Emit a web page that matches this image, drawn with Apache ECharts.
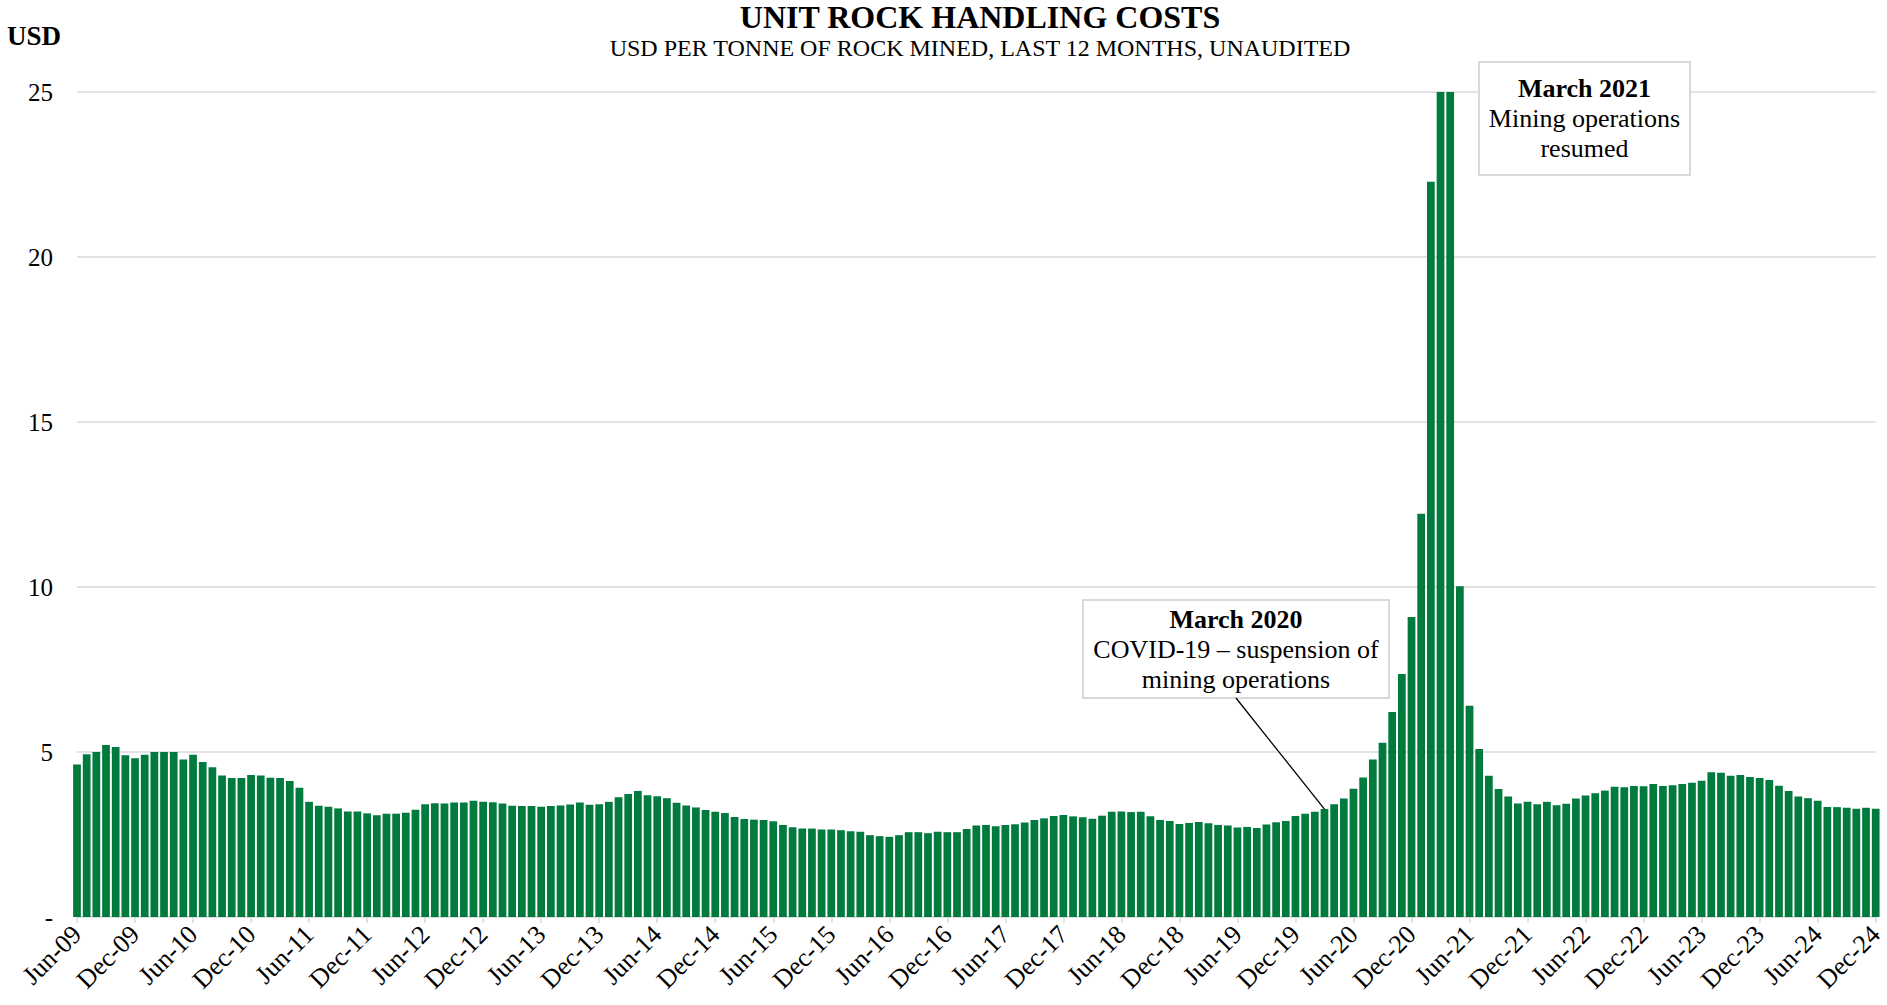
<!DOCTYPE html>
<html>
<head>
<meta charset="utf-8">
<script src="https://cdn.jsdelivr.net/npm/echarts@6/dist/echarts.min.js"></script>
<style>
html,body{margin:0;padding:0;background:#ffffff;}
#chart{width:1887px;height:1005px;}
</style>
</head>
<body>
<div id="chart"></div>
<script>
// ---------- DATA ----------
const categories = [
  'Jun-09','Jul-09','Aug-09','Sep-09','Oct-09','Nov-09','Dec-09',
  'Jan-10','Feb-10','Mar-10','Apr-10','May-10','Jun-10','Jul-10','Aug-10','Sep-10','Oct-10','Nov-10','Dec-10',
  'Jan-11','Feb-11','Mar-11','Apr-11','May-11','Jun-11','Jul-11','Aug-11','Sep-11','Oct-11','Nov-11','Dec-11',
  'Jan-12','Feb-12','Mar-12','Apr-12','May-12','Jun-12','Jul-12','Aug-12','Sep-12','Oct-12','Nov-12','Dec-12',
  'Jan-13','Feb-13','Mar-13','Apr-13','May-13','Jun-13','Jul-13','Aug-13','Sep-13','Oct-13','Nov-13','Dec-13',
  'Jan-14','Feb-14','Mar-14','Apr-14','May-14','Jun-14','Jul-14','Aug-14','Sep-14','Oct-14','Nov-14','Dec-14',
  'Jan-15','Feb-15','Mar-15','Apr-15','May-15','Jun-15','Jul-15','Aug-15','Sep-15','Oct-15','Nov-15','Dec-15',
  'Jan-16','Feb-16','Mar-16','Apr-16','May-16','Jun-16','Jul-16','Aug-16','Sep-16','Oct-16','Nov-16','Dec-16',
  'Jan-17','Feb-17','Mar-17','Apr-17','May-17','Jun-17','Jul-17','Aug-17','Sep-17','Oct-17','Nov-17','Dec-17',
  'Jan-18','Feb-18','Mar-18','Apr-18','May-18','Jun-18','Jul-18','Aug-18','Sep-18','Oct-18','Nov-18','Dec-18',
  'Jan-19','Feb-19','Mar-19','Apr-19','May-19','Jun-19','Jul-19','Aug-19','Sep-19','Oct-19','Nov-19','Dec-19',
  'Jan-20','Feb-20','Mar-20','Apr-20','May-20','Jun-20','Jul-20','Aug-20','Sep-20','Oct-20','Nov-20','Dec-20',
  'Jan-21','Feb-21','Mar-21','Apr-21','May-21','Jun-21','Jul-21','Aug-21','Sep-21','Oct-21','Nov-21','Dec-21',
  'Jan-22','Feb-22','Mar-22','Apr-22','May-22','Jun-22','Jul-22','Aug-22','Sep-22','Oct-22','Nov-22','Dec-22',
  'Jan-23','Feb-23','Mar-23','Apr-23','May-23','Jun-23','Jul-23','Aug-23','Sep-23','Oct-23','Nov-23','Dec-23',
  'Jan-24','Feb-24','Mar-24','Apr-24','May-24','Jun-24','Jul-24','Aug-24','Sep-24','Oct-24','Nov-24','Dec-24'
];

// USD per tonne of rock mined (last 12 months), one value per month
const costs = [
  4.62, 4.93, 5.00, 5.21, 5.15, 4.90, 4.81,
  4.92, 5.00, 5.00, 5.00, 4.77, 4.92, 4.70, 4.54, 4.29, 4.21, 4.21, 4.30,
  4.29, 4.22, 4.21, 4.12, 3.92, 3.49, 3.37, 3.34, 3.29, 3.20, 3.20, 3.14,
  3.08, 3.13, 3.13, 3.16, 3.25, 3.42, 3.45, 3.44, 3.47, 3.47, 3.52, 3.49,
  3.48, 3.44, 3.37, 3.36, 3.36, 3.34, 3.36, 3.38, 3.41, 3.47, 3.40, 3.42,
  3.49, 3.63, 3.73, 3.82, 3.69, 3.66, 3.60, 3.46, 3.38, 3.32, 3.24, 3.19,
  3.15, 3.03, 2.97, 2.95, 2.94, 2.90, 2.79, 2.72, 2.68, 2.68, 2.65, 2.65,
  2.63, 2.60, 2.58, 2.48, 2.45, 2.43, 2.48, 2.57, 2.57, 2.54, 2.58, 2.57,
  2.57, 2.67, 2.77, 2.79, 2.75, 2.79, 2.81, 2.86, 2.94, 2.99, 3.06, 3.09,
  3.05, 3.02, 2.98, 3.07, 3.19, 3.20, 3.18, 3.19, 3.05, 2.94, 2.91, 2.82,
  2.85, 2.88, 2.84, 2.79, 2.77, 2.71, 2.73, 2.70, 2.80, 2.87, 2.91, 3.06,
  3.13, 3.19, 3.27, 3.42, 3.59, 3.89, 4.23, 4.77, 5.28, 6.21, 7.36, 9.09,
  12.22, 22.28, 25.00, 25.00, 10.02, 6.40, 5.09, 4.28, 3.88, 3.65, 3.44, 3.49,
  3.42, 3.49, 3.39, 3.43, 3.59, 3.68, 3.75, 3.83, 3.95, 3.93, 3.97, 3.96,
  4.03, 3.97, 3.99, 4.03, 4.07, 4.13, 4.39, 4.37, 4.28, 4.30, 4.24, 4.21,
  4.15, 3.98, 3.82, 3.65, 3.60, 3.52, 3.33, 3.33, 3.31, 3.28, 3.31, 3.28
];

const yTicks = [0, 5, 10, 15, 20, 25];

const titleText = 'UNIT ROCK HANDLING COSTS';
const subtitleText = 'USD PER TONNE OF ROCK MINED, LAST 12 MONTHS, UNAUDITED';
const unitText = 'USD';

const covidNote = { month: 'Mar-20', head: 'March 2020', lines: ['COVID-19 \u2013 suspension of', 'mining operations'] };
const resumeNote = { month: 'Mar-21', head: 'March 2021', lines: ['Mining operations', 'resumed'] };

// ---------- CHART ----------
const FONT = '"Liberation Serif", "Times New Roman", serif';
const GREEN = '#007a3d';
const GRID_GRAY = '#d9d9d9';

const chart = echarts.init(document.getElementById('chart'), null, { renderer: 'svg' });

chart.setOption({
  animation: false,
  backgroundColor: '#ffffff',
  title: [
    { text: titleText, left: 980, top: 1, textAlign: 'center', padding: 0,
      textStyle: { fontFamily: FONT, fontSize: 32, lineHeight: 32, fontWeight: 'bold', color: '#000' } },
    { text: subtitleText, left: 980, top: 35, textAlign: 'center', padding: 0,
      textStyle: { fontFamily: FONT, fontSize: 24, lineHeight: 26, fontWeight: 'normal', color: '#000' } },
    { text: unitText, left: 7, top: 22, padding: 0,
      textStyle: { fontFamily: FONT, fontSize: 27, lineHeight: 28, fontWeight: 'bold', color: '#000' } }
  ],
  grid: { left: 77, right: 4, top: 92, bottom: 88, containLabel: false },
  xAxis: {
    type: 'category',
    data: categories,
    boundaryGap: false,
    axisLine: { show: true, lineStyle: { color: GRID_GRAY, width: 1.5 } },
    axisTick: { show: true, interval: 5, length: 6, lineStyle: { color: GRID_GRAY, width: 1.5 } },
    axisLabel: { interval: 5, rotate: 45, margin: 13, fontFamily: FONT, fontSize: 26, color: '#000' },
    splitLine: { show: false }
  },
  yAxis: {
    type: 'value',
    min: yTicks[0],
    max: yTicks[yTicks.length - 1],
    interval: 5,
    axisLine: { show: false },
    axisTick: { show: false },
    splitLine: { show: true, lineStyle: { color: GRID_GRAY, width: 1.5 } },
    axisLabel: {
      margin: 24, fontFamily: FONT, fontSize: 25, color: '#000',
      formatter: v => (v === 0 ? '-' : String(v))
    }
  },
  series: [{
    type: 'bar',
    data: costs,
    barCategoryGap: '20%',
    clip: true,
    silent: true,
    itemStyle: { color: GREEN }
  }]
});

// ---------- ANNOTATIONS ----------
function noteBox(note, box, lineGap) {
  const cx = box.x + box.w / 2;
  const els = [{
    type: 'rect',
    shape: { x: box.x, y: box.y, width: box.w, height: box.h },
    style: { fill: '#ffffff', stroke: GRID_GRAY, lineWidth: 2 },
    z: 10
  }, {
    type: 'text',
    style: { text: note.head, x: cx, y: box.y + box.firstLine, align: 'center', verticalAlign: 'middle',
             font: 'bold 26px ' + FONT, fill: '#000' },
    z: 11
  }];
  note.lines.forEach((t, i) => {
    els.push({
      type: 'text',
      style: { text: t, x: cx, y: box.y + box.firstLine + lineGap * (i + 1), align: 'center', verticalAlign: 'middle',
               font: '26px ' + FONT, fill: '#000' },
      z: 11
    });
  });
  return els;
}

const covidBox = { x: 1083, y: 600, w: 306, h: 98, firstLine: 19 };
const resumeBox = { x: 1479, y: 62, w: 211, h: 113, firstLine: 26 };

const idx = categories.indexOf(covidNote.month);
const barTop = chart.convertToPixel({ xAxisIndex: 0, yAxisIndex: 0 }, [idx, costs[idx]]);

const graphics = []
  .concat([{
    type: 'line',
    shape: { x1: covidBox.x + covidBox.w / 2, y1: covidBox.y + covidBox.h, x2: barTop[0], y2: barTop[1] },
    style: { stroke: '#000', lineWidth: 1.3 },
    z: 12
  }])
  .concat(noteBox(covidNote, covidBox, 30))
  .concat(noteBox(resumeNote, resumeBox, 30));

chart.setOption({ graphic: graphics });
</script>
</body>
</html>
